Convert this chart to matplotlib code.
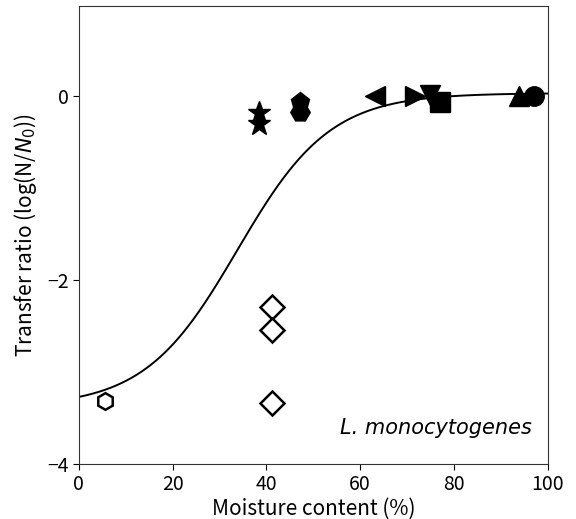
import numpy as np
import matplotlib
matplotlib.use('Agg')
import matplotlib.pyplot as plt

plt.rcParams['font.family'] = ['Noto Sans CJK JP', 'DejaVu Sans']
plt.rcParams['mathtext.fontset'] = 'dejavusans'

# ── data ──────────────────────────────────────────────────────────────────
# filled markers (upper cluster)
filled_x = [38.4, 38.4, 47.1, 47.1, 63.1, 71.6, 74.8, 77.0, 93.8, 97.0]
filled_y = [-0.19, -0.31, -0.07, -0.17, 0.00, 0.00, 0.01, -0.07, 0.00, 0.00]
filled_m = ['*', '*', 'p', 'H', '<', '>', 'v', 's', '^', 'o']

# open markers (lower cluster)
open_x = [5.5, 41.2, 41.2, 41.2]
open_y = [-3.32, -2.29, -2.54, -3.34]
open_m = ['h', 'D', 'D', 'D']

# fitted logistic curve parameters
LOW, HIGH, RATE, MID = -3.38, 0.03, 0.101, 33.8

fig = plt.figure(figsize=(5.76, 5.19), dpi=100)
ax = fig.add_axes([0.137, 0.106, 0.814, 0.883])

xs = np.linspace(0, 100, 400)
ax.plot(xs, LOW + (HIGH - LOW) / (1 + np.exp(-RATE * (xs - MID))),
        color='k', lw=1.4, zorder=2)

for x, y, m in zip(filled_x, filled_y, filled_m):
    ax.plot(x, y, marker=m, ms=17 if m == '*' else 14, color='k',
            ls='none', zorder=3, clip_on=False)

for x, y, m in zip(open_x, open_y, open_m):
    ax.plot(x, y, marker=m, ms=12, mfc='white',
            mec='k', mew=1.8, ls='none', zorder=3)

ax.set_xlim(0, 100)
ax.set_ylim(-4, 0.98)
ax.set_xticks(range(0, 101, 20))
ax.set_yticks([-4, -2, 0])
ax.tick_params(labelsize=14, length=4)
ax.set_yticklabels(['\u22124', '\u22122', '0'])
for s in ax.spines.values():
    s.set_color('#333333')
ax.set_xlabel('Moisture content (%)', fontsize=15, labelpad=2)
ax.set_ylabel('Transfer ratio (log(N/$N_0$))', fontsize=15, labelpad=6)

ax.text(0.966, 0.079, 'L. monocytogenes', transform=ax.transAxes,
        ha='right', va='center', fontsize=15, style='italic',
        family='DejaVu Sans')

fig.savefig('out.png', dpi=100)
